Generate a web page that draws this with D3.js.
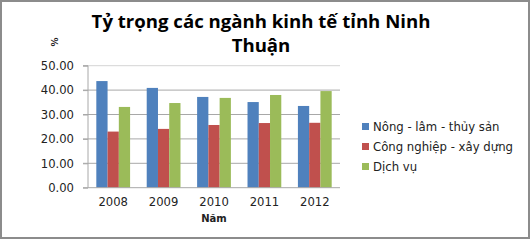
<!DOCTYPE html>
<html><head><meta charset="utf-8">
<script src="https://cdn.jsdelivr.net/npm/d3@7"></script>
<style>body{margin:0;background:#fff}svg{display:block}</style>
</head><body>
<script>
const years = ["2008","2009","2010","2011","2012"];
const seriesNames = ["Nông - lâm - thủy sản","Công nghiệp - xây dựng","Dịch vụ"];
const nongLamThuySan = [43.7, 40.9, 37.2, 35.1, 33.5];
const congNghiepXayDung = [23.0, 24.1, 25.7, 26.5, 26.6];
const dichVu = [33.1, 34.7, 36.8, 38.0, 39.6];
const yTicks = [0, 10, 20, 30, 40, 50];
const colors = ["#4f81bd", "#c0504d", "#9bbb59"];
const seriesValues = [nongLamThuySan, congNghiepXayDung, dichVu];

const W = 531, H = 240;
const svg = d3.select("body").append("svg").attr("width", W).attr("height", H);
svg.append("rect").attr("x", 1).attr("y", 1).attr("width", W - 3).attr("height", H - 3)
  .attr("fill", "#fff").attr("stroke", "#8c8c8c").attr("stroke-width", 2);

const pL = 88, pR = 340, pT = 65.7, pB = 187.7;
const x = d3.scaleBand().domain(years).range([pL, pR]).paddingInner(0.33).paddingOuter(0.165);
const xs = d3.scaleBand().domain(d3.range(3)).range([0, x.bandwidth()]);
const y = d3.scaleLinear().domain([0, 50]).range([pB, pT]);

// gridlines
svg.append("g").selectAll("line").data(yTicks.filter(d => d > 0)).join("line")
  .attr("x1", pL - 5).attr("x2", pR).attr("y1", d => y(d)).attr("y2", d => y(d))
  .attr("stroke", d => d === 50 ? "#d4d4d4" : "#a8a8a8").attr("stroke-width", 1);

// bars
const g = svg.append("g");
years.forEach((yr, i) => {
  seriesValues.forEach((vals, s) => {
    g.append("rect").attr("x", x(yr) + xs(s)).attr("width", xs.bandwidth())
      .attr("y", y(vals[i])).attr("height", y(0) - y(vals[i])).attr("fill", colors[s]);
  });
});

// y axis
const yAxis = d3.axisLeft(y).tickValues(yTicks).tickFormat(d3.format(".2f")).tickSize(5).tickPadding(9);
const ya = svg.append("g").attr("transform", `translate(${pL},0)`).call(yAxis);
ya.select(".domain").attr("stroke", "#a8a8a8").attr("d", `M-5,${pT}H0V${pB}H-5`);
ya.selectAll(".tick line").attr("stroke", "#a8a8a8");
ya.selectAll("text").attr("font-family", "DejaVu Sans").attr("font-size", 11.6).attr("fill", "#222");

// x axis
const xa = svg.append("g").attr("transform", `translate(0,${pB})`).call(d3.axisBottom(x).tickSize(0).tickPadding(10));
xa.select(".domain").attr("stroke", "#a8a8a8").attr("d", `M${pL},0H${pR}`);
xa.selectAll("text").attr("font-family", "DejaVu Sans").attr("font-size", 11.6).attr("fill", "#222");

svg.append("text").attr("x", 214).attr("y", 222).attr("text-anchor", "middle")
  .attr("font-family", "DejaVu Sans").attr("font-weight", "bold").attr("font-size", 10).attr("fill", "#222").text("Năm");

svg.append("text").attr("transform", "translate(58,42) rotate(-90)").attr("text-anchor", "middle")
  .attr("font-family", "DejaVu Sans").attr("font-weight", "bold").attr("font-size", 9).attr("fill", "#222").text("%");

// title
const title = svg.append("text").attr("text-anchor", "middle").attr("font-family", "Open Sans")
  .attr("font-weight", "bold").attr("font-size", 18.6).attr("fill", "#000");
title.append("tspan").attr("x", 261).attr("y", 28).text("Tỷ trọng các ngành kinh tế tỉnh Ninh");
title.append("tspan").attr("x", 261).attr("y", 52).text("Thuận");

// legend
const lg = svg.append("g");
seriesNames.forEach((n, i) => {
  lg.append("rect").attr("x", 362).attr("y", 123 + i * 20).attr("width", 7).attr("height", 7).attr("fill", colors[i]);
  lg.append("text").attr("x", 373).attr("y", 131 + i * 20).attr("font-family", "DejaVu Sans")
    .attr("font-size", 11.7).attr("fill", "#222").text(n);
});
</script>
</body></html>
